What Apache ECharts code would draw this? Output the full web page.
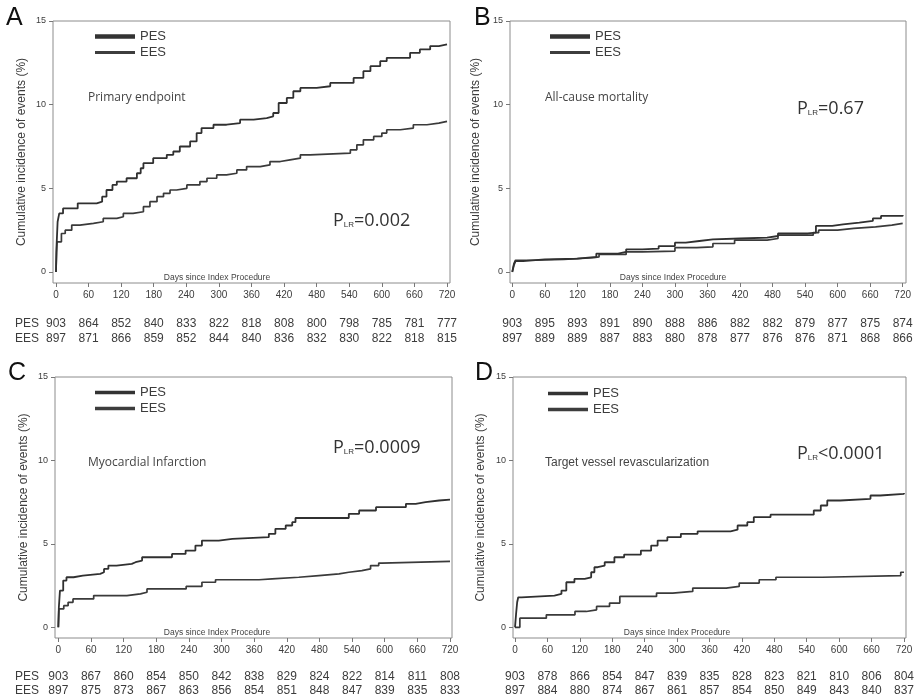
<!DOCTYPE html>
<html>
<head>
<meta charset="utf-8">
<script src="https://cdn.jsdelivr.net/npm/echarts@6/dist/echarts.min.js"></script>
<style>
  html, body { margin: 0; padding: 0; background: #fff; }
  #chart { width: 917px; height: 698px; }
</style>
</head>
<body>
<div id="chart"></div>
<script>
// Day ticks shared by every panel
const dayTicks = [0, 60, 120, 180, 240, 300, 360, 420, 480, 540, 600, 660, 720];
const yTicks = [0, 5, 10, 15];

// Kaplan-Meier cumulative incidence (%), [day, value] at each step
const pesPrimary = [[0,0],[1,1.5],[3,3.0],[6,3.5],[13,3.8],[40,4.1],[75,4.2],[85,4.5],[93,4.9],[104,5.2],[112,5.4],[130,5.6],[149,5.9],[156,6.2],[161,6.5],[179,6.8],[204,7.0],[216,7.2],[228,7.5],[247,7.8],[259,8.3],[268,8.6],[290,8.8],[314,8.9],[339,9.1],[364,9.2],[388,9.3],[400,9.5],[410,10.1],[425,10.4],[437,10.8],[450,11.0],[480,11.1],[505,11.3],[548,11.6],[566,12.0],[579,12.3],[597,12.6],[609,12.8],[652,13.1],[670,13.3],[689,13.5],[705,13.6],[720,13.6]];
const eesPrimary = [[0,0],[1,1.2],[2,1.8],[10,2.3],[17,2.5],[29,2.8],[44,2.9],[69,3.0],[87,3.2],[112,3.3],[124,3.5],[142,3.6],[161,3.9],[173,4.2],[186,4.5],[198,4.7],[210,4.9],[222,5.0],[241,5.2],[265,5.4],[278,5.6],[296,5.8],[314,5.9],[333,6.1],[351,6.3],[376,6.4],[394,6.6],[413,6.7],[431,6.8],[450,7.0],[468,7.1],[542,7.3],[554,7.6],[566,7.9],[585,8.1],[600,8.3],[609,8.5],[634,8.6],[658,8.8],[683,8.9],[705,9.0],[720,9.0]];

const pesMortality = [[0,0],[3,0.4],[6,0.65],[20,0.75],[60,0.8],[120,0.9],[155,1.1],[195,1.2],[210,1.35],[240,1.4],[270,1.55],[300,1.75],[320,1.85],[345,1.95],[370,2.0],[420,2.05],[470,2.15],[490,2.3],[545,2.35],[560,2.75],[590,2.85],[610,2.95],[640,3.05],[665,3.2],[680,3.35],[720,3.4]];
const eesMortality = [[0,0],[3,0.5],[6,0.7],[40,0.75],[95,0.85],[150,0.9],[160,1.05],[210,1.2],[240,1.25],[300,1.45],[340,1.5],[370,1.7],[410,1.9],[470,2.0],[490,2.2],[555,2.35],[565,2.5],[600,2.6],[630,2.7],[670,2.8],[700,2.9],[720,2.9]];

const pesMI = [[0,0],[1,1.2],[3,2.2],[9,2.8],[15,3.0],[28,3.1],[45,3.2],[77,3.3],[84,3.5],[92,3.7],[107,3.8],[135,3.9],[142,4.0],[154,4.2],[209,4.4],[234,4.6],[252,4.9],[264,5.2],[295,5.3],[320,5.4],[387,5.6],[399,5.9],[418,6.1],[430,6.3],[436,6.55],[534,6.8],[553,7.0],[584,7.2],[639,7.4],[657,7.5],[675,7.6],[700,7.65],[720,7.65]];
const eesMI = [[0,0],[1,1.1],[10,1.3],[18,1.5],[27,1.7],[65,1.9],[126,2.0],[151,2.1],[163,2.3],[235,2.45],[264,2.7],[289,2.85],[369,2.9],[393,3.0],[442,3.1],[479,3.2],[516,3.3],[534,3.4],[558,3.5],[574,3.7],[589,3.85],[595,3.95],[720,3.95]];

const pesTVR = [[0,0],[2,0.8],[4,1.5],[6,1.8],[12,1.9],[73,2.0],[86,2.2],[95,2.7],[110,2.9],[129,3.0],[141,3.3],[147,3.6],[153,3.7],[166,3.9],[184,4.2],[202,4.36],[233,4.6],[252,4.9],[264,5.2],[282,5.4],[307,5.6],[338,5.75],[399,5.85],[412,6.1],[430,6.3],[442,6.6],[473,6.75],[553,7.0],[566,7.3],[578,7.6],[602,7.7],[658,7.9],[676,8.0],[720,8.05]];
const eesTVR = [[0,0],[9,0.55],[58,0.75],[111,0.95],[132,1.05],[151,1.25],[175,1.45],[194,1.85],[262,2.05],[292,2.15],[329,2.35],[391,2.45],[415,2.65],[452,2.85],[483,3.0],[569,3.1],[714,3.3],[720,3.3]];

// Numbers at risk at each day tick
const riskPesPrimary = [903, 864, 852, 840, 833, 822, 818, 808, 800, 798, 785, 781, 777];
const riskEesPrimary = [897, 871, 866, 859, 852, 844, 840, 836, 832, 830, 822, 818, 815];
const riskPesMortality = [903, 895, 893, 891, 890, 888, 886, 882, 882, 879, 877, 875, 874];
const riskEesMortality = [897, 889, 889, 887, 883, 880, 878, 877, 876, 876, 871, 868, 866];
const riskPesMI = [903, 867, 860, 854, 850, 842, 838, 829, 824, 822, 814, 811, 808];
const riskEesMI = [897, 875, 873, 867, 863, 856, 854, 851, 848, 847, 839, 835, 833];
const riskPesTVR = [903, 878, 866, 854, 847, 839, 835, 828, 823, 821, 810, 806, 804];
const riskEesTVR = [897, 884, 880, 874, 867, 861, 857, 854, 850, 849, 843, 840, 837];

const FONT = '"Liberation Sans", Arial, sans-serif';
const FONT_NARROW = '"Liberation Sans Narrow", "Liberation Sans", Arial, sans-serif';
const FONT_HUMAN = '"Open Sans", "Noto Sans", sans-serif';
const TXT = '#3c3c3c';
const LINE = '#303030';

// Flat bar legend icon of a given stroke thickness (40 units wide)
const barIcon = h => 'path://M0,0H40V' + h + 'H0Z';

const panels = [
  { letter: 'A', title: 'Primary endpoint', p: '=0.002', pes: pesPrimary, ees: eesPrimary,
    riskPes: riskPesPrimary, riskEes: riskEesPrimary, rowLabels: true,
    grid: { left: 53, top: 21, width: 397, height: 262 }, xMin: -5.5, xMax: 725.5, yMin: -0.66,
    letterPos: [6, 6], titlePos: [88, 92], titleFont: FONT_HUMAN, pPos: [333, 212], legendPos: [90, 25],
    legendW: [4.5, 3], daysPos: [217, 278], nameGap: 25, marg: [7, 35, 50] },
  { letter: 'B', title: 'All-cause mortality', p: '=0.67', pes: pesMortality, ees: eesMortality,
    riskPes: riskPesMortality, riskEes: riskEesMortality, rowLabels: false,
    grid: { left: 510, top: 21, width: 396, height: 262 }, xMin: -4.2, xMax: 726.1, yMin: -0.66,
    letterPos: [474, 6], titlePos: [545, 92], titleFont: FONT_HUMAN, pPos: [797, 100], legendPos: [545, 25],
    legendW: [4.5, 3], daysPos: [673, 278], nameGap: 28, marg: [7, 35, 50] },
  { letter: 'C', title: 'Myocardial Infarction', p: '=0.0009', pes: pesMI, ees: eesMI,
    riskPes: riskPesMI, riskEes: riskEesMI, rowLabels: true,
    grid: { left: 55, top: 377, width: 397, height: 261 }, xMin: -6.1, xMax: 723.7, yMin: -0.64,
    letterPos: [8, 361], titlePos: [88, 457], titleFont: FONT_HUMAN, pPos: [333, 439], legendPos: [90, 381],
    legendW: [3.5, 3.5], daysPos: [217, 633], nameGap: 25, marg: [7, 33, 47] },
  { letter: 'D', title: 'Target vessel revascularization', p: '<0.0001', pes: pesTVR, ees: eesTVR,
    riskPes: riskPesTVR, riskEes: riskEesTVR, rowLabels: false,
    grid: { left: 513, top: 377, width: 394, height: 261 }, xMin: -3.7, xMax: 723.7, yMin: -0.64,
    letterPos: [475, 361], titlePos: [545, 457], titleFont: FONT, pPos: [797, 445], legendPos: [543, 382],
    legendW: [3.5, 3.5], daysPos: [677, 633], nameGap: 26, marg: [7, 33, 47] }
];

const grids = [], xAxes = [], yAxes = [], series = [], legends = [], graphics = [];

panels.forEach((pn, i) => {
  grids.push(Object.assign({ show: true, borderColor: '#8c8c8c', borderWidth: 1, backgroundColor: 'transparent' }, pn.grid));

  // Main day axis
  xAxes.push({
    type: 'value', gridIndex: i, position: 'bottom', min: pn.xMin, max: pn.xMax,
    axisLine: { show: false, onZero: false },
    axisTick: { show: true, customValues: dayTicks, length: 4, lineStyle: { color: '#777' } },
    axisLabel: { customValues: dayTicks, margin: pn.marg[0], fontSize: 10, color: TXT, fontFamily: FONT_NARROW },
    splitLine: { show: false }
  });
  // Numbers-at-risk rows drawn as extra axes sharing the day scale
  [[pn.riskPes, pn.marg[1]], [pn.riskEes, pn.marg[2]]].forEach(([arr, m]) => {
    xAxes.push({
      type: 'value', gridIndex: i, position: 'bottom', min: pn.xMin, max: pn.xMax,
      axisLine: { show: false, onZero: false }, axisTick: { show: false }, splitLine: { show: false },
      axisLabel: {
        customValues: dayTicks, margin: m, fontSize: 12, color: TXT, fontFamily: FONT,
        formatter: v => { const k = dayTicks.indexOf(Math.round(v)); return k >= 0 ? String(arr[k]) : ''; }
      }
    });
  });

  yAxes.push({
    type: 'value', gridIndex: i, min: pn.yMin, max: 15,
    name: 'Cumulative incidence of events (%)', nameLocation: 'middle', nameGap: pn.nameGap,
    nameTextStyle: { fontSize: 12, color: TXT, fontFamily: FONT },
    axisLine: { show: false, onZero: false },
    axisTick: { show: true, customValues: yTicks, length: 4, lineStyle: { color: '#777' } },
    axisLabel: { customValues: yTicks, margin: 7, fontSize: 9, color: TXT, fontFamily: FONT_NARROW },
    splitLine: { show: false }
  });

  const xi = i * 3;
  series.push({
    name: 'PES', type: 'line', step: 'end', xAxisIndex: xi, yAxisIndex: i, data: pn.pes,
    symbol: 'none', lineStyle: { color: LINE, width: 1.8 }, itemStyle: { color: LINE },
    silent: true, animation: false, z: 3
  });
  series.push({
    name: 'EES', type: 'line', step: 'end', xAxisIndex: xi, yAxisIndex: i, data: pn.ees,
    symbol: 'none', lineStyle: { color: '#3a3a3a', width: 1.7 }, itemStyle: { color: '#3a3a3a' },
    silent: true, animation: false, z: 2
  });

  legends.push({
    left: pn.legendPos[0], top: pn.legendPos[1], orient: 'vertical',
    itemWidth: 40, itemHeight: 14, itemGap: 3, selectedMode: false,
    textStyle: { fontSize: 13, color: TXT, fontFamily: FONT_NARROW },
    data: [
      { name: 'PES', icon: barIcon(pn.legendW[0]), itemStyle: { color: '#333' } },
      { name: 'EES', icon: barIcon(pn.legendW[1]), itemStyle: { color: '#3d3d3d' } }
    ]
  });

  graphics.push({ type: 'text', left: pn.letterPos[0], top: pn.letterPos[1],
    style: { text: pn.letter, fontSize: 25, fontFamily: FONT, fill: '#111' } });
  graphics.push({ type: 'text', left: pn.titlePos[0], top: pn.titlePos[1],
    style: { text: pn.title, fontSize: 12, fontFamily: pn.titleFont, fill: '#444' } });
  graphics.push({ type: 'text', left: pn.pPos[0], top: pn.pPos[1],
    style: {
      text: '{a|P}{b|LR}{a|' + pn.p + '}',
      rich: {
        a: { fontSize: 18, fontFamily: FONT_HUMAN, fill: '#333', color: '#333' },
        b: { fontSize: 8, fontFamily: FONT, fill: '#333', color: '#333', verticalAlign: 'bottom', padding: [0, 0, 1, 0] }
      }
    } });
  graphics.push({ type: 'text', x: pn.daysPos[0], y: pn.daysPos[1],
    style: { text: 'Days since Index Procedure', fontSize: 8.5, fontFamily: FONT, fill: '#444', align: 'center', verticalAlign: 'middle' } });
  if (pn.rowLabels) {
    const base = pn.grid.top + pn.grid.height;
    graphics.push({ type: 'text', x: 15, y: base + pn.marg[1] + 6,
      style: { text: 'PES', fontSize: 12, fontFamily: FONT, fill: TXT, verticalAlign: 'middle' } });
    graphics.push({ type: 'text', x: 15, y: base + pn.marg[2] + 6,
      style: { text: 'EES', fontSize: 12, fontFamily: FONT, fill: TXT, verticalAlign: 'middle' } });
  }
});

const chart = echarts.init(document.getElementById('chart'), null, { renderer: 'canvas' });
chart.setOption({
  backgroundColor: '#ffffff',
  animation: false,
  grid: grids,
  xAxis: xAxes,
  yAxis: yAxes,
  legend: legends,
  series: series,
  graphic: graphics
});
</script>
</body>
</html>
